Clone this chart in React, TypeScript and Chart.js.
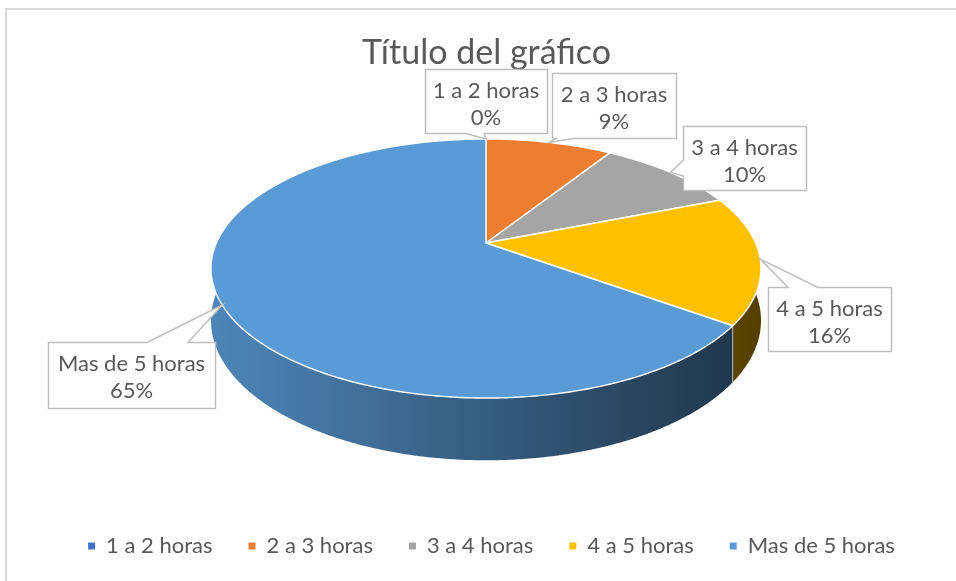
import { useEffect, useRef } from 'react';
import { Chart, registerables } from 'chart.js';

Chart.register(...registerables);

// ---- data ----
const categories = ['1 a 2 horas', '2 a 3 horas', '3 a 4 horas', '4 a 5 horas', 'Mas de 5 horas'];
const shares = [0, 9, 10, 16, 65];
const sliceColors = ['#4472C4', '#ED7D31', '#A5A5A5', '#FFC000', '#5B9BD5'];
const chartTitle = 'Título del gráfico';

// ---- 3D projection / style constants ----
const CX = 486;
const CY = 243;
const RA = 269.6;
const RB = 124.5;
const PK = 0.197;
const DEPTH = 50;
const TEXT_COLOR = '#595959';
const FONT = 'Lato';
const LEGEND_SHIFT = 5;

type Box = { x: number; y: number; w: number; h: number; edge: 'top' | 'bottom' | 'left'; b0: number; b1: number };
const labelBoxes: Box[] = [
  { x: 425, y: 69, w: 122, h: 64, edge: 'bottom', b0: 466, b1: 484 },
  { x: 552, y: 73, w: 124, h: 65, edge: 'bottom', b0: 556, b1: 573 },
  { x: 683, y: 126, w: 123, h: 64, edge: 'left', b0: 160, b1: 176 },
  { x: 768, y: 287, w: 123, h: 64, edge: 'top', b0: 788, b1: 818 },
  { x: 48, y: 342, w: 167, h: 66, edge: 'top', b0: 147, b1: 188 },
];

function proj(phi: number, drop = 0): [number, number] {
  const u = Math.cos(phi);
  const v = Math.sin(phi);
  const w = 1 - PK * v;
  return [CX + (RA * u) / w, CY + (RB * v + drop) / w];
}

function shade(hex: string, f: number) {
  const n = parseInt(hex.slice(1), 16);
  const r = Math.round(((n >> 16) & 255) * f);
  const g = Math.round(((n >> 8) & 255) * f);
  const b = Math.round((n & 255) * f);
  return `rgb(${r},${g},${b})`;
}

const shadeFactor = (u: number) => 0.86 - (0.48 * (u + 1)) / 1.81;

const framePlugin = {
  id: 'frame',
  afterLayout(chart: any) {
    if (chart.legend) {
      chart.legend.left += LEGEND_SHIFT;
      chart.legend.right += LEGEND_SHIFT;
    }
  },
  beforeDraw(chart: any) {
    const ctx = chart.ctx;
    ctx.save();
    ctx.fillStyle = '#ffffff';
    ctx.fillRect(0, 0, chart.width, chart.height);
    ctx.strokeStyle = '#d9d9d9';
    ctx.lineWidth = 2;
    ctx.strokeRect(6, 9, 1000, 1000);
    ctx.restore();
  },
};

const pie3dPlugin = {
  id: 'pie3d',
  beforeDatasetsDraw(chart: any) {
    const ctx = chart.ctx;
    const arcs = chart.getDatasetMeta(0).data as any[];
    const colors = chart.data.datasets[0].backgroundColor as string[];
    ctx.save();
    // side walls (front half only)
    arcs.forEach((arc, i) => {
      const s = Math.max(arc.startAngle, 0);
      const e = Math.min(arc.endAngle, Math.PI);
      if (e - s <= 0) return;
      const steps = Math.max(2, Math.ceil((e - s) / (Math.PI / 360)));
      ctx.beginPath();
      for (let k = 0; k <= steps; k++) {
        const p = proj(s + ((e - s) * k) / steps);
        if (k === 0) ctx.moveTo(p[0], p[1]);
        else ctx.lineTo(p[0], p[1]);
      }
      for (let k = steps; k >= 0; k--) {
        const p = proj(s + ((e - s) * k) / steps, DEPTH);
        ctx.lineTo(p[0], p[1]);
      }
      ctx.closePath();
      const x0 = CX - 275;
      const x1 = CX + 275;
      const grad = ctx.createLinearGradient(x0, 0, x1, 0);
      for (let t = 0; t <= 10; t++) {
        const u = -1 + (2 * t) / 10;
        grad.addColorStop(t / 10, shade(colors[i], shadeFactor(u)));
      }
      ctx.fillStyle = grad;
      ctx.fill();
    });
    // boundary lines on side
    arcs.forEach((arc) => {
      if (arc.endAngle - arc.startAngle <= 0) return;
      const a = arc.endAngle;
      if (Math.sin(a) > PK) {
        const t = proj(a);
        const b = proj(a, DEPTH);
        ctx.beginPath();
        ctx.moveTo(t[0], t[1]);
        ctx.lineTo(b[0], b[1]);
        ctx.strokeStyle = 'rgba(255,255,255,0.55)';
        ctx.lineWidth = 1;
        ctx.stroke();
      }
    });
    // top faces
    arcs.forEach((arc, i) => {
      const s = arc.startAngle;
      const e = arc.endAngle;
      if (e - s <= 0) return;
      const steps = Math.max(2, Math.ceil((e - s) / (Math.PI / 360)));
      ctx.beginPath();
      ctx.moveTo(CX, CY);
      for (let k = 0; k <= steps; k++) {
        const p = proj(s + ((e - s) * k) / steps);
        ctx.lineTo(p[0], p[1]);
      }
      ctx.closePath();
      ctx.fillStyle = colors[i];
      ctx.fill();
      ctx.strokeStyle = '#ffffff';
      ctx.lineWidth = 1.4;
      ctx.lineJoin = 'round';
      ctx.stroke();
    });
    ctx.restore();
    return false;
  },
};

const calloutPlugin = {
  id: 'callouts',
  afterDraw(chart: any) {
    const ctx = chart.ctx;
    const arcs = chart.getDatasetMeta(0).data as any[];
    const values = chart.data.datasets[0].data as number[];
    const labels = chart.data.labels as string[];
    const total = values.reduce((a, b) => a + b, 0);
    ctx.save();
    arcs.forEach((arc, i) => {
      const b = labelBoxes[i];
      const mid = (arc.startAngle + arc.endAngle) / 2;
      const tip = proj(mid);
      const L = b.x + 0.5;
      const T = b.y + 0.5;
      const R = b.x + b.w + 0.5;
      const B = b.y + b.h + 0.5;
      ctx.beginPath();
      if (b.edge === 'top') {
        ctx.moveTo(L, T);
        ctx.lineTo(b.b0, T);
        ctx.lineTo(tip[0], tip[1]);
        ctx.lineTo(b.b1, T);
        ctx.lineTo(R, T);
        ctx.lineTo(R, B);
        ctx.lineTo(L, B);
      } else if (b.edge === 'bottom') {
        ctx.moveTo(L, T);
        ctx.lineTo(R, T);
        ctx.lineTo(R, B);
        ctx.lineTo(b.b1, B);
        ctx.lineTo(tip[0], tip[1]);
        ctx.lineTo(b.b0, B);
        ctx.lineTo(L, B);
      } else {
        ctx.moveTo(L, T);
        ctx.lineTo(R, T);
        ctx.lineTo(R, B);
        ctx.lineTo(L, B);
        ctx.lineTo(L, b.b1);
        ctx.lineTo(tip[0], tip[1]);
        ctx.lineTo(L, b.b0);
      }
      ctx.closePath();
      ctx.fillStyle = '#ffffff';
      ctx.fill();
      ctx.strokeStyle = '#bfbfbf';
      ctx.lineWidth = 1.5;
      ctx.lineJoin = 'miter';
      ctx.stroke();

      ctx.fillStyle = TEXT_COLOR;
      ctx.font = `22px ${FONT}`;
      ctx.textAlign = 'center';
      ctx.textBaseline = 'alphabetic';
      const cx = b.x + b.w / 2;
      const pct = total ? Math.round((values[i] / total) * 100) : 0;
      ctx.fillText(labels[i], cx, b.y + 29);
      ctx.fillText(`${pct}%`, cx, b.y + 56);
    });
    ctx.restore();
  },
};

export default function App() {
  const ref = useRef<HTMLCanvasElement>(null);
  useEffect(() => {
    const canvas = ref.current!;
    const chart = new Chart(canvas, {
      type: 'pie',
      data: {
        labels: categories,
        datasets: [{ data: shares, backgroundColor: sliceColors, borderWidth: 0 }],
      },
      options: {
        animation: false,
        responsive: false,
        maintainAspectRatio: false,
        events: [],
        layout: { padding: { left: 17, top: 0, right: 0, bottom: 14 } },
        plugins: {
          title: {
            display: true,
            text: chartTitle,
            color: TEXT_COLOR,
            font: { family: FONT, size: 34, weight: 'normal' },
            padding: { top: 33, bottom: 10 },
          },
          legend: {
            position: 'bottom',
            labels: {
              boxWidth: 7,
              boxHeight: 7,
              padding: 36,
              color: TEXT_COLOR,
              font: { family: FONT, size: 22 },
            },
          },
          tooltip: { enabled: false },
        },
      },
      plugins: [framePlugin, pie3dPlugin, calloutPlugin],
    });
    return () => chart.destroy();
  }, []);
  return (
    <div style={{ position: 'fixed', left: 0, top: 0, width: 956, height: 581, overflow: 'hidden', background: '#fff' }}>
      <canvas ref={ref} width={956} height={581} style={{ display: 'block', width: 956, height: 581 }} />
    </div>
  );
}
